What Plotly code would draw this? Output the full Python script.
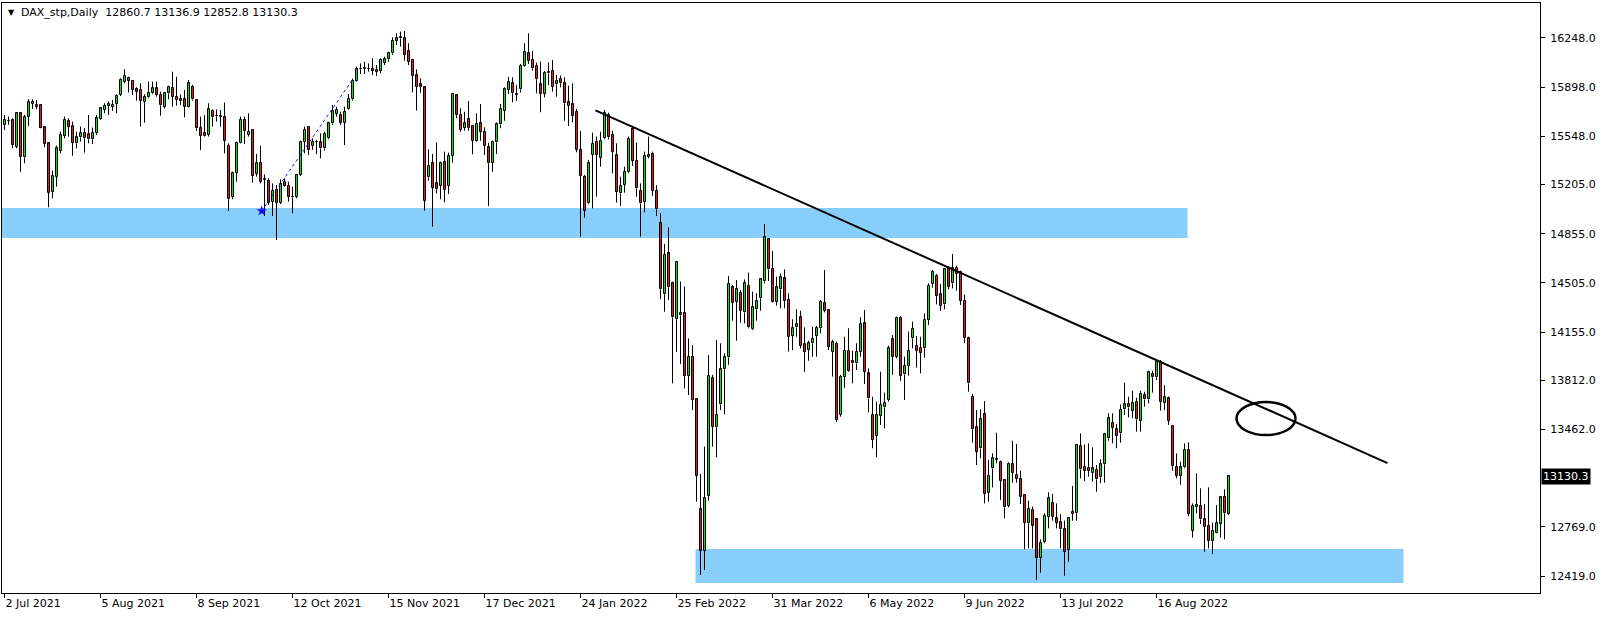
import plotly.graph_objects as go

# ---- daily DAX_stp bars (2 Jul 2021 .. 9 Sep 2022), one entry per trading day -------------
open_px = [
    15629, 15660, 15664, 15474, 15712, 15399, 15688, 15778, 15771, 15771,
    15612, 15498, 15154, 15261, 15446, 15550, 15659, 15621, 15498, 15541,
    15574, 15562, 15527, 15569, 15669, 15735, 15764, 15759, 15778, 15842,
    15937, 15965, 15944, 15882, 15878, 15795, 15825, 15854, 15889, 15842,
    15759, 15854, 15894, 15830, 15811, 15811, 15759, 15901, 15806, 15605,
    15574, 15557, 15728, 15693, 15691, 15688, 15479, 15114, 15289, 15503,
    15664, 15557, 15593, 15280, 15360, 15242, 15232, 15083, 15166, 15076,
    15225, 15197, 15116, 15119, 15273, 15510, 15617, 15481, 15508, 15505,
    15462, 15534, 15640, 15707, 15700, 15645, 15740, 15811, 15944, 16025,
    16027, 16030, 16027, 16020, 16013, 16072, 16096, 16138, 16229, 16245,
    16245, 16155, 16091, 15982, 15918, 15897, 15256, 15356, 15213, 15197,
    15363, 15197, 15410, 15840, 15700, 15609, 15669, 15621, 15517, 15640,
    15576, 15470, 15360, 15505, 15633, 15728, 15878, 15925, 15849, 15882,
    16048, 16138, 16091, 16048, 15918, 15849, 16008, 16013, 15918, 15958,
    15925, 15790, 15776, 15719, 15451, 15261, 15071, 15415, 15510, 15396,
    15534, 15700, 15557, 15415, 15142, 15201, 15292, 15600, 15372, 15161,
    15083, 15415, 15420, 15159, 14929, 14424, 14715, 14502, 14246, 14274,
    14288, 13845, 13975, 13676, 12894, 12600, 12989, 13826, 13477, 13641,
    13890, 13975, 14473, 14371, 14435, 14295, 14483, 14177, 14317, 14395,
    14516, 14817, 14604, 14371, 14459, 14537, 14383, 14129, 14189, 14260,
    14068, 14027, 14075, 14129, 14182, 14364, 14312, 14015, 14070, 13565,
    13838, 14023, 13950, 13932, 14016, 14217, 13861, 13565, 13418, 13560,
    13619, 13672, 14103, 13980, 14257, 13854, 13916, 14110, 14056, 14044,
    14039, 14241, 14495, 14556, 14423, 14352, 14609, 14502, 14613, 14580,
    14379, 14111, 13695, 13482, 13328, 13570, 13012, 13185, 13248, 13228,
    13102, 12920, 13214, 13138, 13107, 12995, 12794, 12889, 12822, 12550,
    12664, 12841, 12936, 12830, 12806, 12751, 12604, 12877, 12865, 13344,
    13197, 13190, 13150, 13173, 13121, 13214, 13399, 13510, 13463, 13434,
    13605, 13641, 13596, 13660, 13524, 13707, 13676, 13857, 13833, 13944,
    13648, 13683, 13487, 13192, 13133, 13192, 13316, 12742, 12908, 12917,
    12822, 12775, 12671, 12728, 12789, 12984, 12860.7,
]
high_px = [
    15700, 15688, 15676, 15716, 15716, 15700, 15813, 15811, 15806, 15776,
    15617, 15503, 15304, 15481, 15581, 15688, 15676, 15652, 15581, 15617,
    15605, 15700, 15610, 15700, 15754, 15783, 15795, 15806, 15847, 15961,
    16025, 15972, 15949, 15897, 15925, 15847, 15937, 15937, 15937, 15866,
    15859, 15908, 16008, 15972, 15847, 15878, 15949, 15913, 15811, 15688,
    15700, 15783, 15740, 15740, 15735, 15788, 15498, 15296, 15510, 15688,
    15688, 15712, 15598, 15422, 15481, 15277, 15249, 15213, 15202, 15242,
    15249, 15225, 15190, 15280, 15517, 15617, 15621, 15534, 15522, 15569,
    15581, 15652, 15771, 15759, 15723, 15759, 15849, 15958, 16044, 16067,
    16079, 16067, 16103, 16055, 16103, 16115, 16150, 16252, 16281, 16293,
    16297, 16210, 16096, 16025, 15961, 15901, 15455, 15422, 15505, 15368,
    15439, 15432, 15854, 15847, 15747, 15723, 15799, 15629, 15712, 15778,
    15612, 15503, 15517, 15647, 15778, 15897, 15972, 15968, 15913, 16063,
    16210, 16281, 16155, 16072, 16079, 16013, 16074, 16091, 15984, 15980,
    15968, 15908, 15925, 15742, 15586, 15273, 15380, 15574, 15546, 15581,
    15735, 15716, 15588, 15498, 15261, 15332, 15546, 15612, 15505, 15213,
    15439, 15546, 15439, 15201, 15000, 14782, 14900, 14514, 14661, 14514,
    14478, 14110, 14063, 13684, 13145, 13339, 13992, 13850, 14099, 14075,
    14004, 14554, 14490, 14525, 14454, 14530, 14578, 14443, 14431, 14533,
    14924, 14822, 14732, 14549, 14573, 14601, 14431, 14246, 14317, 14307,
    14189, 14094, 14193, 14198, 14383, 14597, 14317, 14099, 14087, 13850,
    14122, 14182, 14023, 14075, 14260, 14312, 13897, 13695, 13660, 13873,
    13724, 14058, 14134, 14265, 14269, 13980, 14158, 14229, 14127, 14122,
    14288, 14502, 14597, 14568, 14497, 14609, 14625, 14711, 14627, 14592,
    14423, 14122, 13714, 13600, 13605, 13664, 13245, 13292, 13439, 13240,
    13107, 13228, 13382, 13358, 13169, 13003, 12955, 12913, 12830, 12680,
    12865, 13015, 13003, 12936, 12860, 12813, 12837, 13060, 13356, 13434,
    13356, 13363, 13335, 13209, 13249, 13434, 13577, 13577, 13501, 13641,
    13795, 13695, 13738, 13688, 13738, 13731, 13880, 13880, 13961, 13956,
    13778, 13695, 13494, 13292, 13233, 13363, 13370, 12936, 13150, 13043,
    12932, 13050, 12799, 12924, 12989, 13036, 13136.9,
]
low_px = [
    15593, 15629, 15463, 15463, 15296, 15356, 15621, 15742, 15740, 15605,
    15470, 15043, 15107, 15190, 15427, 15534, 15546, 15410, 15462, 15510,
    15432, 15498, 15493, 15557, 15664, 15712, 15700, 15730, 15712, 15835,
    15925, 15859, 15842, 15802, 15617, 15645, 15818, 15847, 15830, 15695,
    15747, 15811, 15759, 15766, 15771, 15683, 15754, 15802, 15586, 15451,
    15546, 15546, 15617, 15652, 15617, 15427, 15017, 15100, 15225, 15498,
    15493, 15546, 15218, 15261, 15213, 14981, 15059, 14981, 14810, 15066,
    15190, 15083, 15000, 15107, 15266, 15427, 15415, 15451, 15422, 15391,
    15446, 15527, 15629, 15688, 15629, 15486, 15735, 15802, 15937, 15991,
    15991, 16008, 15984, 15977, 15996, 16055, 16079, 16127, 16198, 16186,
    16086, 16055, 15861, 15731, 15859, 15019, 15232, 14905, 15142, 15100,
    15078, 15138, 15360, 15676, 15581, 15588, 15588, 15420, 15510, 15517,
    15415, 15052, 15296, 15422, 15605, 15659, 15849, 15790, 15799, 15859,
    16044, 16063, 16015, 15854, 15719, 15825, 15913, 15866, 15830, 15897,
    15659, 15621, 15648, 15434, 14834, 14969, 15064, 15036, 15119, 15332,
    15527, 15527, 15285, 15076, 15052, 15147, 15285, 15337, 15119, 14834,
    15007, 15391, 15123, 14981, 14388, 14300, 14383, 13790, 14015, 13928,
    13754, 13707, 13600, 12948, 12426, 12462, 12955, 13339, 13264, 13600,
    13570, 13921, 14236, 14094, 14222, 14217, 14182, 14170, 14236, 14307,
    14502, 14518, 14362, 14343, 14324, 14324, 14016, 14027, 14122, 14039,
    13873, 13951, 13980, 13980, 14146, 14295, 14027, 13838, 13517, 13553,
    13755, 13873, 13790, 13885, 13980, 13785, 13584, 13328, 13264, 13494,
    13470, 13660, 13850, 13968, 13807, 13672, 13845, 14039, 13902, 13861,
    13973, 14205, 14471, 14352, 14305, 14317, 14459, 14466, 14450, 14348,
    14075, 13731, 13368, 13209, 13256, 12936, 12948, 13050, 13221, 12960,
    12830, 12908, 13083, 13083, 12932, 12609, 12616, 12616, 12391, 12443,
    12652, 12758, 12813, 12758, 12616, 12422, 12521, 12813, 12813, 13114,
    13095, 13126, 13090, 13019, 13079, 13083, 13382, 13363, 13328, 13368,
    13565, 13548, 13541, 13446, 13446, 13624, 13648, 13724, 13814, 13596,
    13600, 13494, 13169, 13114, 13067, 13185, 12846, 12692, 12865, 12789,
    12592, 12616, 12576, 12723, 12692, 12680, 12852.8,
]
close_px = [
    15664, 15657, 15486, 15712, 15403, 15683, 15790, 15790, 15759, 15610,
    15493, 15147, 15266, 15462, 15557, 15664, 15617, 15503, 15541, 15569,
    15534, 15527, 15574, 15676, 15747, 15764, 15776, 15773, 15837, 15949,
    15977, 15942, 15878, 15866, 15799, 15825, 15859, 15889, 15842, 15768,
    15854, 15901, 15830, 15806, 15802, 15759, 15925, 15811, 15605, 15550,
    15550, 15740, 15683, 15691, 15689, 15517, 15100, 15285, 15503, 15664,
    15586, 15581, 15266, 15356, 15225, 15240, 15076, 15161, 15076, 15206,
    15197, 15119, 15114, 15273, 15510, 15593, 15451, 15510, 15510, 15462,
    15564, 15640, 15728, 15735, 15645, 15719, 15816, 15942, 16025, 16027,
    16032, 16027, 16013, 16008, 16091, 16096, 16138, 16229, 16245, 16252,
    16127, 16079, 15980, 15901, 15901, 15090, 15337, 15183, 15171, 15356,
    15166, 15408, 15847, 15700, 15593, 15640, 15609, 15517, 15636, 15581,
    15479, 15356, 15510, 15633, 15742, 15882, 15932, 15854, 15842, 16048,
    16146, 16086, 16032, 15954, 15849, 16001, 15996, 15901, 15942, 15925,
    15783, 15764, 15695, 15451, 15268, 15019, 15356, 15493, 15415, 15515,
    15712, 15541, 15439, 15154, 15197, 15292, 15529, 15375, 15178, 15071,
    15408, 15403, 15159, 15028, 14459, 14703, 14474, 14260, 14654, 14288,
    13845, 13977, 13672, 13133, 12600, 12972, 13842, 13482, 13565, 13890,
    13975, 14497, 14364, 14459, 14307, 14502, 14189, 14331, 14376, 14530,
    14829, 14601, 14366, 14473, 14545, 14379, 14122, 14182, 14210, 14058,
    14016, 14075, 14103, 14182, 14371, 14307, 14051, 14082, 13529, 13838,
    14023, 13880, 13932, 14016, 14212, 13873, 13683, 13387, 13565, 13636,
    13653, 14039, 13980, 14257, 13845, 13913, 14020, 14177, 14023, 14008,
    14241, 14483, 14580, 14414, 14343, 14601, 14478, 14609, 14568, 14379,
    14111, 13790, 13463, 13304, 13534, 13003, 13133, 13256, 13252, 13098,
    12908, 13214, 13154, 13109, 12984, 12799, 12894, 12777, 12545, 12652,
    12846, 12972, 12841, 12799, 12751, 12592, 12830, 12860, 13351, 13178,
    13169, 13169, 13185, 13107, 13214, 13427, 13541, 13474, 13418, 13600,
    13641, 13619, 13653, 13534, 13714, 13676, 13873, 13833, 13944, 13660,
    13690, 13524, 13204, 13133, 13192, 13316, 12860, 12917, 12924, 12822,
    12770, 12671, 12739, 12794, 12979, 12865, 13130.3,
]

# time axis: MT4 labels every 24 bars
date_ticks = ["2 Jul 2021", "5 Aug 2021", "8 Sep 2021", "12 Oct 2021", "15 Nov 2021",
              "17 Dec 2021", "24 Jan 2022", "25 Feb 2022", "31 Mar 2022", "6 May 2022",
              "9 Jun 2022", "13 Jul 2022", "16 Aug 2022"]
BARS_PER_LABEL = 24

price_ticks = [16248.0, 15898.0, 15548.0, 15205.0, 14855.0, 14505.0,
               14155.0, 13812.0, 13462.0, 12769.0, 12419.0]

# hand drawn objects, in (bar index, price)
zone_upper = dict(b0=-0.7, b1=295.75, lo=14825, hi=15038)
zone_lower = dict(b0=172.75, b1=349.75, lo=12369, hi=12611)
trend_line = dict(b0=147.75, p0=15733, b1=345.75, p1=13223)
ellipse = dict(b0=308.0, b1=322.75, lo=13422, hi=13657)
blue_ray = dict(b0=64.3, p0=15017, b1=87.3, p1=15963)

BULL = "#22D422"
BEAR = "#DC1E1E"
ZONE = "#87CEFA"
FONT = "DejaVu Sans"
BODY_W = 0.5     # in bars -> 1px fill between 1px outlines

bar_idx = list(range(len(close_px)))
body_lo = [min(o, c) for o, c in zip(open_px, close_px)]
body_hi = [max(o, c) for o, c in zip(open_px, close_px)]
body_col = [BULL if c >= o else BEAR for o, c in zip(open_px, close_px)]

# wicks drawn as two segments per bar so they never cross the body fill
wick_x, wick_y = [], []
for i, h, l, bl, bh in zip(bar_idx, high_px, low_px, body_lo, body_hi):
    wick_x += [i, i, None, i, i, None]
    wick_y += [bh, h, None, l, bl, None]

fig = go.Figure()

# zones ---------------------------------------------------------------------
for z in (zone_upper, zone_lower):
    fig.add_shape(type="rect", xref="x", yref="y",
        x0=z["b0"], x1=z["b1"], y0=z["lo"], y1=z["hi"],
        line=dict(width=0), fillcolor=ZONE, layer="below")

# candles -------------------------------------------------------------------
fig.add_trace(go.Scatter(
    x=wick_x, y=wick_y, mode="lines",
    line=dict(color="black", width=1),
    hoverinfo="skip",
))
fig.add_trace(go.Bar(
    x=bar_idx, base=body_lo, y=[h - l for h, l in zip(body_hi, body_lo)],
    width=BODY_W,
    marker=dict(color=body_col, line=dict(color="black", width=1)),
    hoverinfo="skip",
))

# trend line + circle -------------------------------------------------------
fig.add_shape(type="line", xref="x", yref="y",
    x0=trend_line["b0"], y0=trend_line["p0"], x1=trend_line["b1"], y1=trend_line["p1"],
    line=dict(color="black", width=2))
fig.add_shape(type="circle", xref="x", yref="y",
    x0=ellipse["b0"], x1=ellipse["b1"], y0=ellipse["lo"], y1=ellipse["hi"],
    line=dict(color="black", width=2.5))

# little blue ray with its anchor mark
fig.add_shape(type="line", xref="x", yref="y",
    x0=blue_ray["b0"], y0=blue_ray["p0"], x1=blue_ray["b1"], y1=blue_ray["p1"],
    line=dict(color="#1010F0", width=1, dash="dot"))
fig.add_trace(go.Scatter(
    x=[blue_ray["b0"]], y=[blue_ray["p0"]], mode="markers",
    marker=dict(symbol="star", size=8, color="#1010F0"),
    hoverinfo="skip",
))

# header + last price tag ---------------------------------------------------
header = "DAX_stp,Daily\u00a0\u00a0{} {} {} {}".format(open_px[-1], high_px[-1], low_px[-1], close_px[-1])
fig.add_annotation(text="\u25bc", xref="paper", yref="paper", x=0, y=0.984,
    xanchor="center", yanchor="middle", xshift=9, showarrow=False,
    font=dict(size=8, color="black", family=FONT))
fig.add_annotation(text=header, xref="paper", yref="paper", x=0, y=0.984,
    xanchor="left", yanchor="middle", xshift=17, showarrow=False,
    font=dict(size=11, color="black", family=FONT))
fig.add_annotation(text=f"{close_px[-1]:.1f}", xref="paper", yref="y", x=1, y=close_px[-1],
    xanchor="left", yanchor="middle", xshift=1, showarrow=False,
    bgcolor="black", borderpad=1,
    font=dict(size=11, color="white", family=FONT))

# layout --------------------------------------------------------------------
fig.update_layout(
    width=1604, height=620,
    margin=dict(l=2, r=64, t=3, b=27, autoexpand=False),
    paper_bgcolor="white", plot_bgcolor="white",
    font=dict(family=FONT, size=11, color="black"),
    showlegend=False,
    bargap=0,
)
fig.update_xaxes(
    range=[-0.625, 383.875],   # 4 px per bar
    automargin=False,
    showgrid=False, zeroline=False,
    showline=True, mirror=True, linecolor="black", linewidth=1,
    ticks="outside", ticklen=4, tickcolor="black",
    tickvals=[BARS_PER_LABEL * k for k in range(len(date_ticks))],
    ticktext=date_ticks,
    ticklabelposition="outside right",
)
fig.update_yaxes(
    side="right",
    range=[12298.2, 16496.7],
    automargin=False,
    showgrid=False, zeroline=False,
    showline=True, mirror=True, linecolor="black", linewidth=1,
    ticks="outside", ticklen=4, tickcolor="black",
    tickvals=price_ticks,
    ticktext=[f"{v:.1f}" for v in price_ticks],
    ticklabelstandoff=3,
)

# page has a default 8px body margin; the chart should sit flush at 0,0
fig.write_html(
    "out.html",
    config={"displayModeBar": False},
    post_script="document.body.style.margin='0';document.body.style.overflow='hidden';",
)
